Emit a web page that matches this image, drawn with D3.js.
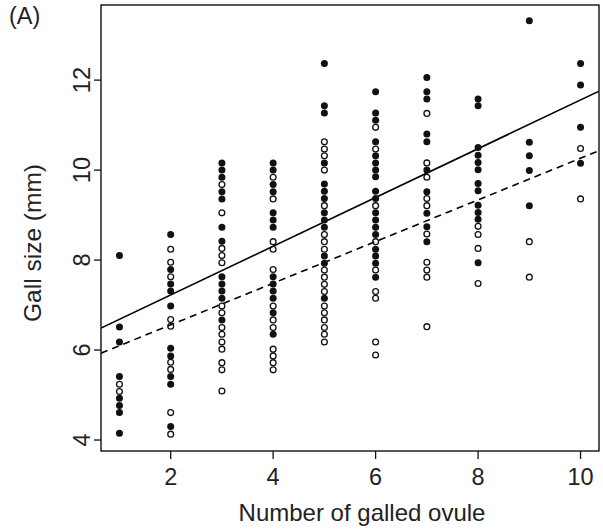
<!DOCTYPE html>
<html>
  <head>
    <meta charset="utf-8"/>
    <style>
body {
  margin: 0;
  background: #fff;
}
svg {
  display: block;
  font-family: "Liberation Sans", Arial, sans-serif;
}
    </style>
  </head>
  <body>
    <svg id="chart" width="603" height="530"></svg>
    <script src="https://cdnjs.cloudflare.com/ajax/libs/d3/7.8.5/d3.min.js"></script>
    <script>
// galled ovules per fruit (x) and gall sizes
const ovules = [1, 2, 3, 4, 5, 6, 7, 8, 9, 10];
const filledSizes = [
  [8.10, 6.51, 6.18, 5.41, 4.93, 4.77, 4.61, 4.15],
  [8.57, 7.79, 7.47, 7.31, 6.98, 6.04, 5.87, 5.41, 5.24, 4.30],
  [10.16, 10.0, 9.84, 9.52, 9.36, 8.73, 8.42, 7.63, 7.47, 7.31, 7.15, 6.67],
  [10.16, 10.0, 9.68, 9.52, 9.05, 8.89, 8.73, 7.63, 7.47, 7.31, 7.15, 6.83, 6.35],
  [12.37, 11.43, 11.27, 10.16, 9.69, 9.53, 9.37, 9.05, 8.89, 8.73, 8.09, 7.93, 7.15],
  [11.74, 11.27, 11.11, 10.63, 10.32, 10.16, 10.0, 9.85, 9.53, 9.37, 9.05, 8.89, 8.73, 8.57, 8.24, 8.09, 7.93, 7.62],
  [12.06, 11.74, 11.58, 10.80, 10.63, 10.0, 9.52, 9.04, 8.74, 8.41],
  [11.58, 11.43, 10.50, 10.33, 10.17, 10.01, 9.70, 9.54, 9.22, 9.06, 8.91, 7.94],
  [13.32, 10.62, 10.32, 9.99, 9.21],
  [12.37, 11.89, 10.95, 10.15]
];
const openSizes = [
  [5.24, 5.08],
  [8.24, 7.95, 7.63, 6.68, 6.53, 5.73, 5.57, 4.61, 4.13],
  [9.68, 9.05, 8.26, 8.10, 7.94, 6.98, 6.83, 6.50, 6.35, 6.18, 6.02, 5.72, 5.56, 5.09],
  [9.84, 9.36, 8.41, 8.24, 7.79, 6.98, 6.67, 6.50, 6.02, 5.87, 5.72, 5.56],
  [10.63, 10.47, 10.32, 10.0, 9.21, 8.57, 8.41, 8.24, 7.78, 7.62, 7.46, 7.30, 6.98, 6.83, 6.67, 6.50, 6.35, 6.18],
  [10.95, 10.47, 9.21, 8.41, 7.78, 7.30, 7.15, 6.18, 5.89],
  [11.26, 10.16, 9.84, 9.37, 9.21, 8.58, 7.95, 7.78, 7.62, 6.52],
  [8.75, 8.57, 8.26, 7.48],
  [8.41, 7.62],
  [10.48, 9.36]
];
// fitted lines: [intercept, slope]
const fitFilled = [6.14, 0.542];
const fitOpen = [5.634, 0.463];
const xTicks = [2, 4, 6, 8, 10];
const yTicks = [4, 6, 8, 10, 12];

const svg = d3.select("#chart");
const mLeft = 101, mRight = 599, mTop = 5, mBottom = 451;

const x = d3.scaleLinear().domain([0.64, 10.36]).range([mLeft, mRight]);
const y = d3.scaleLinear().domain([3.756, 13.67]).range([mBottom, mTop]);

svg.append("defs").append("clipPath").attr("id", "plotclip")
  .append("rect")
    .attr("x", mLeft).attr("y", mTop)
    .attr("width", mRight - mLeft).attr("height", mBottom - mTop);

// fit lines
const lines = [
  { coef: fitFilled, dash: null },
  { coef: fitOpen, dash: "7,5" }
];
svg.append("g")
    .attr("clip-path", "url(#plotclip)")
  .selectAll("line")
  .data(lines)
  .join("line")
    .attr("x1", x(x.domain()[0]))
    .attr("x2", x(x.domain()[1]))
    .attr("y1", d => y(d.coef[0] + d.coef[1] * x.domain()[0]))
    .attr("y2", d => y(d.coef[0] + d.coef[1] * x.domain()[1]))
    .attr("stroke", "#000")
    .attr("stroke-width", 1.6)
    .attr("stroke-dasharray", d => d.dash);

// points
let pts = [];
ovules.forEach((n, i) => {
  filledSizes[i].forEach(v => pts.push({ n: n, v: v, filled: true }));
  openSizes[i].forEach(v => pts.push({ n: n, v: v, filled: false }));
});

svg.append("g")
  .selectAll("circle")
  .data(pts)
  .join("circle")
    .attr("cx", d => x(d.n))
    .attr("cy", d => y(d.v))
    .attr("r", d => d.filled ? 3.5 : 2.9)
    .attr("fill", d => d.filled ? "#111" : "none")
    .attr("stroke", "#111")
    .attr("stroke-width", d => d.filled ? 0 : 1.3);

// frame
svg.append("rect")
    .attr("x", mLeft).attr("y", mTop)
    .attr("width", mRight - mLeft).attr("height", mBottom - mTop)
    .attr("fill", "none")
    .attr("stroke", "#111")
    .attr("stroke-width", 1.4);

// x axis
const xg = svg.append("g").attr("transform", `translate(0,${mBottom})`);
xg.selectAll("line")
  .data(xTicks)
  .join("line")
    .attr("x1", d => x(d)).attr("x2", d => x(d))
    .attr("y1", 0).attr("y2", 8)
    .attr("stroke", "#111").attr("stroke-width", 1.3);
xg.selectAll("text")
  .data(xTicks)
  .join("text")
    .attr("x", d => x(d))
    .attr("y", 34)
    .attr("text-anchor", "middle")
    .attr("font-size", 23.5)
    .attr("fill", "#222")
    .text(d => d);

// y axis
const yg = svg.append("g").attr("transform", `translate(${mLeft},0)`);
yg.selectAll("line")
  .data(yTicks)
  .join("line")
    .attr("x1", 0).attr("x2", -7)
    .attr("y1", d => y(d)).attr("y2", d => y(d))
    .attr("stroke", "#111").attr("stroke-width", 1.3);
yg.selectAll("text")
  .data(yTicks)
  .join("text")
    .attr("transform", d => `translate(-11,${y(d)}) rotate(-90)`)
    .attr("text-anchor", "middle")
    .attr("font-size", 23.5)
    .attr("fill", "#222")
    .text(d => d);

// labels
svg.append("text")
    .attr("x", 362)
    .attr("y", 521)
    .attr("text-anchor", "middle")
    .attr("font-size", 24)
    .attr("fill", "#222")
    .text("Number of galled ovule");

svg.append("text")
    .attr("transform", "translate(41,243) rotate(-90)")
    .attr("text-anchor", "middle")
    .attr("font-size", 24.5)
    .attr("fill", "#222")
    .text("Gall size (mm)");

svg.append("text")
    .attr("x", 9)
    .attr("y", 24)
    .attr("font-size", 23.5)
    .attr("fill", "#222")
    .text("(A)");
    </script>
  </body>
</html>
